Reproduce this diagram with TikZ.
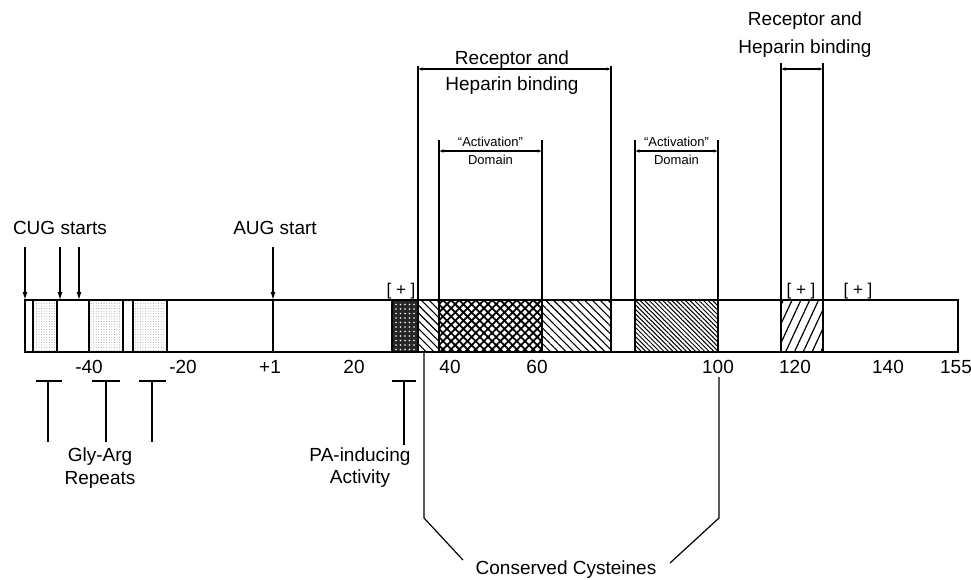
\documentclass[tikz,border=0pt]{standalone}
\usepackage{fontspec}
\setmainfont{Liberation Sans}
\usepackage{tikz}
\usetikzlibrary{patterns.meta,arrows.meta}

\tikzset{
	lbl/.style={font=\fontsize{19}{22}\selectfont, inner sep=0pt},
	small/.style={font=\fontsize{13}{15}\selectfont, inner sep=0pt},
	span/.style={{Latex[length=4.5pt,width=3.5pt]}-{Latex[length=4.5pt,width=3.5pt]}},
	start/.style={-{Latex[length=8pt,width=5pt]}},
	tbar/.style={line width=1.2pt}
}

\begin{document}
\begin{tikzpicture}[x=1pt, y=-1pt, line width=1.2pt]
\useasboundingbox (0,0) rectangle (971,579);

	\foreach \a/\b in {33/57, 89/123, 133/167}
	{
		\fill [pattern={Dots[distance=2.6pt, radius=0.45pt]}, pattern color=black!45] (\a,300) rectangle (\b,352);
		\draw [line width=2pt] (\a,300) -- (\a,352) (\b,300) -- (\b,352);
	}

	\fill [black!85] (392,300) rectangle (418,352);
	\draw [pattern={Dots[distance=4.5pt, radius=0.8pt]}, pattern color=white] (392,300) rectangle (418,352);

	\draw [pattern={Lines[angle=-45, distance=5.5pt, line width=1.1pt]}] (418,300) rectangle (439,352);
	\draw [pattern={Hatch[angle=45, distance=5.8pt, line width=1.8pt]}] (439,300) rectangle (542,352);
	\draw [pattern={Lines[angle=-45, distance=5.5pt, line width=1.1pt]}] (542,300) rectangle (611,352);
	\draw [pattern={Lines[angle=-45, distance=3.2pt, line width=1pt]}] (635,300) rectangle (718,352);
	\draw [pattern={Lines[angle=65, distance=8pt, line width=1.2pt]}] (781,300) rectangle (823,352);

	\draw (25,300) rectangle (958,352);
	\draw (273,300) -- (273,352);

\node [lbl] (cug) at (60,228) {CUG starts};
	\node [lbl] (aug) at (275,228) {AUG start};
	\foreach \x in {25,60,79}
		\draw [start] (\x,247) -- (\x,300);
	\draw [start] (273,247) -- (273,300);

\foreach \x/\t in {89/-40, 183/-20, 270/+1, 354/20, 450/40, 537/60, 718/100, 795/120, 888/140, 956/155}
		\node [lbl] (tick\t) at (\x,367) {\t};

\foreach \x/\a/\b in {48/36/62, 106/92/120, 152/139/166}
		\draw [tbar] (\a,381) -- (\b,381) (\x,381) -- (\x,442);
	\node [lbl] (gly) at (100,457) {Gly-Arg};
	\node [lbl] (rep) at (100,480) {Repeats};

	\draw [tbar] (392,381) -- (416,381) (404,381) -- (404,445);
	\node [lbl] (pa) at (360,457) {PA-inducing};
	\node [lbl] (act) at (360,479) {Activity};

\foreach \x/\name in {401/plusa, 801/plusb, 858/plusc}
		\node [lbl, font=\fontsize{17}{19}\selectfont, anchor=south] (\name) at (\x,300) {[ + ]};

\draw (418,300) -- (418,66) (611,300) -- (611,66);
	\draw [span] (418,69) -- (611,69);
	\node [lbl] (reca) at (512,60) {Receptor and};
	\node [lbl] (hepa) at (512,86) {Heparin binding};

	\draw (781,300) -- (781,63) (823,300) -- (823,63);
	\draw [span] (781,69) -- (823,69);
	\node [lbl] (recb) at (805,21) {Receptor and};
	\node [lbl] (hepb) at (805,49) {Heparin binding};

\foreach \a/\b/\name in {439/542/acta, 635/718/actb}
	{
		\draw (\a,300) -- (\a,140) (\b,300) -- (\b,140);
		\draw [span] (\a,151) -- (\b,151);
		\node [small] (\name) at ({(\a+\b)/2},142) {``Activation''};
		\node [small] (dom\name) at ({(\a+\b)/2},160) {Domain};
	}

\node [lbl, anchor=base] (cys) at (566,574) {Conserved Cysteines};
	\coordinate (cysl) at (463,560);
	\coordinate (cysr) at (670,563);
	\draw (424,352) -- (424,518) -- (cysl);
	\draw (719,377) -- (719,518) -- (cysr);

\end{tikzpicture}
\end{document}
